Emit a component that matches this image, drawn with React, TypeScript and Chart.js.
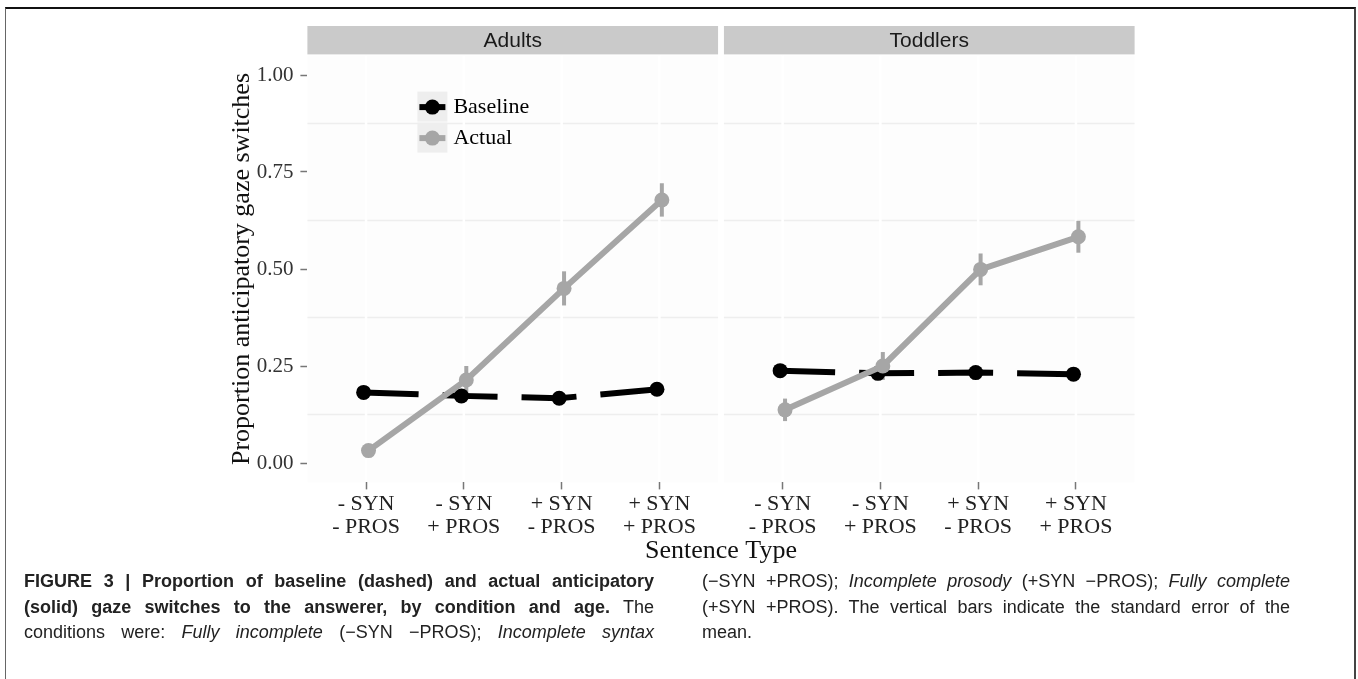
import React, { useEffect, useRef } from 'react';
import { Chart, registerables } from 'chart.js';

Chart.register(...registerables);

// ---------- data ----------
const categories: string[][] = [
  ['- SYN', '- PROS'],
  ['- SYN', '+ PROS'],
  ['+ SYN', '- PROS'],
  ['+ SYN', '+ PROS'],
];
const panels = ['Adults', 'Toddlers'];
const seriesNames = ['Baseline', 'Actual'];

const adultsBaseline = [0.182, 0.173, 0.167, 0.19];
const adultsBaselineSE = [0.008, 0.008, 0.008, 0.008];
const adultsActual = [0.032, 0.214, 0.45, 0.678];
const adultsActualSE = [0.01, 0.036, 0.044, 0.043];

const toddlersBaseline = [0.238, 0.231, 0.233, 0.229];
const toddlersBaselineSE = [0.008, 0.008, 0.008, 0.008];
const toddlersActual = [0.137, 0.25, 0.499, 0.583];
const toddlersActualSE = [0.029, 0.036, 0.041, 0.041];

const yTicks = [0, 0.25, 0.5, 0.75, 1];
const yTickLabels = ['0.00', '0.25', '0.50', '0.75', '1.00'];
const yMinorGrid = [0.125, 0.375, 0.625, 0.875];

const yTitle = 'Proportion anticipatory gaze switches';
const xTitle = 'Sentence Type';

// caption text
type Seg = { t: string; b?: boolean; i?: boolean };
const captionLeft: Seg[][] = [
  [{ t: 'FIGURE 3 | Proportion of baseline (dashed) and actual anticipatory', b: true }],
  [{ t: '(solid) gaze switches to the answerer, by condition and age.', b: true }, { t: ' The' }],
  [
    { t: 'conditions were: ' },
    { t: 'Fully incomplete', i: true },
    { t: ' (\u2212SYN \u2212PROS); ' },
    { t: 'Incomplete syntax', i: true },
  ],
];
const captionRight: Seg[][] = [
  [
    { t: '(\u2212SYN +PROS); ' },
    { t: 'Incomplete prosody', i: true },
    { t: ' (+SYN \u2212PROS); ' },
    { t: 'Fully complete', i: true },
  ],
  [{ t: '(+SYN +PROS). The vertical bars indicate the standard error of the' }],
  [{ t: 'mean.' }],
];

// ---------- layout helpers (in x-scale units) ----------
const PANEL_W = 4.2; // 0.4 .. 4.6 (ggplot discrete expansion)
const PANEL_GAP = 0.06;
const DODGE = 0.025;
const panelStart = (p: number) => 0.4 + p * (PANEL_W + PANEL_GAP);
const catPos = (p: number, i: number) => panelStart(p) + 0.6 + i;

const SERIF = "'Liberation Serif', 'Times New Roman', serif";
const SANS = "'Liberation Sans', Arial, sans-serif";
const GREY = '#A6A6A6';

const panelData = [
  { baseline: adultsBaseline, baselineSE: adultsBaselineSE, actual: adultsActual, actualSE: adultsActualSE },
  { baseline: toddlersBaseline, baselineSE: toddlersBaselineSE, actual: toddlersActual, actualSE: toddlersActualSE },
];

function renderLine(segs: Seg[], key: number, justify: boolean) {
  return (
    <div
      key={key}
      style={{
        whiteSpace: 'nowrap',
        textAlign: justify ? 'justify' : 'left',
        textAlignLast: justify ? 'justify' : 'left',
        height: 25.5,
        lineHeight: '25.5px',
      } as React.CSSProperties}
    >
      {segs.map((s, j) => (
        <span key={j} style={{ fontWeight: s.b ? 700 : 400, fontStyle: s.i ? 'italic' : 'normal' }}>
          {s.t}
        </span>
      ))}
    </div>
  );
}

export default function App() {
  const canvasRef = useRef<HTMLCanvasElement | null>(null);

  useEffect(() => {
    document.body.style.margin = '0';
    const canvas = canvasRef.current;
    if (!canvas) return;

    const datasets: any[] = [];
    panelData.forEach((pd, p) => {
      datasets.push({
        label: seriesNames[0],
        data: pd.baseline.map((v, i) => ({ x: catPos(p, i) - DODGE, y: v })),
        borderColor: '#000',
        backgroundColor: '#000',
        borderWidth: 6,
        borderDash: [55, 24],
        borderCapStyle: 'butt',
        pointRadius: 7.5,
        pointBorderWidth: 0,
        pointBackgroundColor: '#000',
        order: 2,
        errors: pd.baselineSE,
        errColor: '#000',
      });
      datasets.push({
        label: seriesNames[1],
        data: pd.actual.map((v, i) => ({ x: catPos(p, i) + DODGE, y: v })),
        borderColor: GREY,
        backgroundColor: GREY,
        borderWidth: 6,
        borderCapStyle: 'butt',
        pointRadius: 7.5,
        pointBorderWidth: 0,
        pointBackgroundColor: GREY,
        order: 1,
        errors: pd.actualSE,
        errColor: GREY,
      });
    });

    const facetPlugin = {
      id: 'facets',
      beforeDraw(chart: any) {
        const { ctx, chartArea, scales } = chart;
        const xs = scales.x;
        const ys = scales.y;
        ctx.save();
        panels.forEach((name, p) => {
          const x0 = xs.getPixelForValue(panelStart(p));
          const x1 = xs.getPixelForValue(panelStart(p) + PANEL_W);
          // panel background
          ctx.fillStyle = '#FDFDFD';
          ctx.fillRect(x0, chartArea.top, x1 - x0, chartArea.bottom - chartArea.top);
          // minor horizontal grid
          ctx.strokeStyle = '#EEEEEE';
          ctx.lineWidth = 1.5;
          yMinorGrid.forEach((v) => {
            const y = ys.getPixelForValue(v);
            ctx.beginPath();
            ctx.moveTo(x0, y);
            ctx.lineTo(x1, y);
            ctx.stroke();
          });
          // white vertical grid at categories
          ctx.strokeStyle = '#FFFFFF';
          ctx.lineWidth = 2.5;
          categories.forEach((_, i) => {
            const x = xs.getPixelForValue(catPos(p, i));
            ctx.beginPath();
            ctx.moveTo(x, chartArea.top);
            ctx.lineTo(x, chartArea.bottom);
            ctx.stroke();
          });
          // strip
          ctx.fillStyle = '#CACACA';
          ctx.fillRect(x0, 26, x1 - x0, chartArea.top - 26 - 1.2);
          ctx.fillStyle = '#1A1A1A';
          ctx.font = `21px ${SANS}`;
          ctx.textAlign = 'center';
          ctx.textBaseline = 'middle';
          ctx.fillText(name, (x0 + x1) / 2, 41);
        });
        ctx.restore();
      },
      beforeDatasetsDraw(chart: any) {
        const { ctx, scales } = chart;
        const ys = scales.y;
        const xs = scales.x;
        ctx.save();
        chart.data.datasets.forEach((ds: any) => {
          ctx.strokeStyle = ds.errColor;
          ctx.lineWidth = 4;
          ds.data.forEach((pt: any, i: number) => {
            const se = ds.errors[i];
            const x = xs.getPixelForValue(pt.x);
            ctx.beginPath();
            ctx.moveTo(x, ys.getPixelForValue(pt.y - se));
            ctx.lineTo(x, ys.getPixelForValue(pt.y + se));
            ctx.stroke();
          });
        });
        ctx.restore();
      },
      afterDraw(chart: any) {
        const { ctx, chartArea } = chart;
        ctx.save();
        const kx = chartArea.left + 110;
        const ky = chartArea.top + 36;
        const kw = 30;
        const kh = 31;
        const colors = ['#000', GREY];
        seriesNames.forEach((name, k) => {
          const top = ky + k * kh;
          ctx.fillStyle = '#EEEEEE';
          ctx.fillRect(kx, top, kw, kh - 1);
          const cy = top + kh / 2;
          ctx.strokeStyle = colors[k];
          ctx.lineWidth = 6;
          ctx.beginPath();
          ctx.moveTo(kx + 2, cy);
          ctx.lineTo(kx + kw - 2, cy);
          ctx.stroke();
          ctx.fillStyle = colors[k];
          ctx.beginPath();
          ctx.arc(kx + kw / 2, cy, 7.5, 0, Math.PI * 2);
          ctx.fill();
          ctx.fillStyle = '#000';
          ctx.font = `22px ${SERIF}`;
          ctx.textAlign = 'left';
          ctx.textBaseline = 'middle';
          ctx.fillText(name, kx + kw + 6, cy);
        });
        ctx.restore();
      },
    };

    const chart = new Chart(canvas, {
      type: 'line',
      data: { datasets },
      plugins: [facetPlugin],
      options: {
        animation: false,
        responsive: false,
        devicePixelRatio: 1,
        layout: { padding: { left: 226.4, top: 55.6, right: 223.4, bottom: 3.4 } },
        plugins: { legend: { display: false }, tooltip: { enabled: false } },
        scales: {
          x: {
            type: 'linear',
            min: 0.4,
            max: panelStart(panels.length - 1) + PANEL_W,
            afterBuildTicks: (s: any) => {
              s.ticks = panels.flatMap((_, p) => categories.map((__, i) => ({ value: catPos(p, i) })));
            },
            afterFit: (s: any) => {
              s.height = 84.2;
            },
            ticks: {
              autoSkip: false,
              maxRotation: 0,
              minRotation: 0,
              padding: 3,
              color: '#222',
              font: { family: SERIF, size: 22, lineHeight: 1.05 },
              callback: (_v: any, i: number) => categories[i % categories.length],
            },
            grid: { drawOnChartArea: false, tickLength: 7, tickColor: '#777', tickWidth: 1.5 },
            border: { display: false },
            title: {
              display: true,
              text: xTitle,
              color: '#111',
              padding: 0,
              font: { family: SERIF, size: 26 },
            },
          },
          y: {
            type: 'linear',
            min: -0.05,
            max: 1.05,
            afterBuildTicks: (s: any) => {
              s.ticks = yTicks.map((v) => ({ value: v }));
            },
            afterFit: (s: any) => {
              s.width = 81;
            },
            ticks: {
              padding: 7,
              color: '#333',
              font: { family: SERIF, size: 21 },
              callback: (_v: any, i: number) => yTickLabels[i],
            },
            grid: { drawOnChartArea: false, tickLength: 7, tickColor: '#777', tickWidth: 1.5 },
            border: { display: false },
            title: {
              display: true,
              text: yTitle,
              color: '#111',
              padding: 0,
              font: { family: SERIF, size: 26 },
            },
          },
        },
      },
    } as any);

    return () => chart.destroy();
  }, []);

  const capFont: React.CSSProperties = {
    position: 'absolute',
    fontFamily: SANS,
    fontSize: 18,
    color: '#222',
  };

  return (
    <div style={{ position: 'relative', width: 1358, height: 679, overflow: 'hidden', background: '#fff' }}>
      <div
        style={{
          position: 'absolute',
          left: 5,
          top: 7,
          width: 1348,
          height: 720,
          borderTop: '2px solid #111',
          borderLeft: '1.5px solid #666',
          borderRight: '2px solid #444',
        }}
      />
      <canvas ref={canvasRef} width={1358} height={570} style={{ position: 'absolute', left: 0, top: 0 }} />
      <div style={{ ...capFont, left: 24, top: 569, width: 630 }}>
        {captionLeft.map((l, k) => renderLine(l, k, true))}
      </div>
      <div style={{ ...capFont, left: 702, top: 569, width: 588 }}>
        {captionRight.map((l, k) => renderLine(l, k, k < captionRight.length - 1))}
      </div>
    </div>
  );
}
